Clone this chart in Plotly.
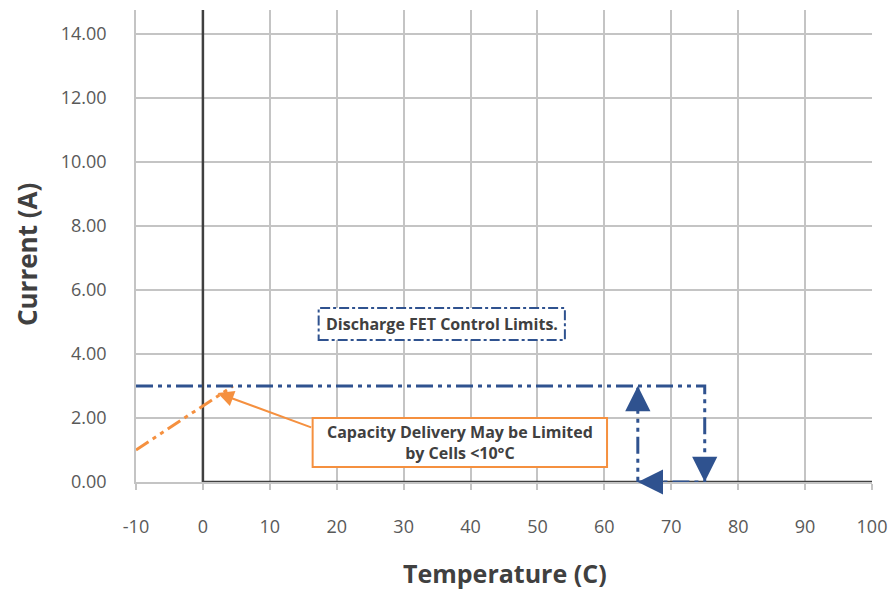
import plotly.graph_objects as go

# ---- data ----
x_range = [-10, 100]
y_range = [0, 14.75]
x_ticks = [-10, 0, 10, 20, 30, 40, 50, 60, 70, 80, 90, 100]
y_ticks = [0, 2, 4, 6, 8, 10, 12, 14]

# black reference axis series (vertical at 0 °C, then 0 A)
ref_x = [0, 0, 100]
ref_y = [14.75, 0, 0]

# orange "cells limited" series
cold_x = [-10, 4.5]
cold_y = [1.0, 3.0]

# blue discharge FET control path
fet_x = [-10, 75, 75, 65, 65]
fet_y = [3.0, 3.0, 0.0, 0.0, 3.0]

# arrow heads along the FET path: (tip_x, tip_y, tail_x, tail_y)
fet_arrows = [(75, 0.0, 75, 0.6), (65, 0.0, 68, 0.0), (65, 3.0, 65, 2.4)]

# annotation texts / positions
fet_label = "Discharge FET Control Limits."
fet_box = [17.3, 4.44, 54.1, 5.44]
cap_label = "Capacity Delivery May be Limited<br>by Cells <10°C"
cap_box = [16.4, 0.47, 60.4, 2.0]
cap_arrow = (2.2, 2.78, 16.4, 1.69)

BLUE = "#2F528F"
ORANGE = "#F5903F"
DARK = "#404040"
TICK = "#595959"
GRID = "#C4C4C4"
FONT = "Open Sans"

fig = go.Figure()

fig.add_trace(go.Scatter(x=ref_x, y=ref_y, mode="lines",
                         line=dict(color=DARK, width=2.5), hoverinfo="skip", showlegend=False))
fig.add_trace(go.Scatter(x=cold_x, y=cold_y, mode="lines",
                         line=dict(color=ORANGE, width=3, dash="15px,5px,4px,5px,4px,5px"),
                         showlegend=False))
fig.add_trace(go.Scatter(x=fet_x, y=fet_y, mode="lines",
                         line=dict(color=BLUE, width=3, dash="17px,5px,4px,5px,4px,5px"),
                         showlegend=False))

for tx, ty, sx, sy in fet_arrows:
    fig.add_annotation(x=tx, y=ty, ax=sx, ay=sy, xref="x", yref="y", axref="x", ayref="y",
                       text="", showarrow=True, arrowhead=2, arrowsize=1.8, arrowwidth=2.8,
                       arrowcolor=BLUE, standoff=0)

# FET label box
fig.add_shape(type="rect", x0=fet_box[0], y0=fet_box[1], x1=fet_box[2], y1=fet_box[3],
              xref="x", yref="y", fillcolor="white",
              line=dict(color=BLUE, width=2, dash="10px,3px,3px,3px"), layer="above")
fig.add_annotation(x=(fet_box[0] + fet_box[2]) / 2, y=(fet_box[1] + fet_box[3]) / 2,
                   xref="x", yref="y", text="<b>" + fet_label + "</b>", showarrow=False,
                   font=dict(family=FONT, size=16, color=DARK))

# capacity box
fig.add_shape(type="rect", x0=cap_box[0], y0=cap_box[1], x1=cap_box[2], y1=cap_box[3],
              xref="x", yref="y", fillcolor="white",
              line=dict(color=ORANGE, width=2), layer="above")
fig.add_annotation(x=(cap_box[0] + cap_box[2]) / 2, y=(cap_box[1] + cap_box[3]) / 2,
                   xref="x", yref="y", text="<b>" + cap_label + "</b>", showarrow=False,
                   font=dict(family=FONT, size=16, color=DARK))
fig.add_annotation(x=cap_arrow[0], y=cap_arrow[1], ax=cap_arrow[2], ay=cap_arrow[3],
                   xref="x", yref="y", axref="x", ayref="y", text="", showarrow=True,
                   arrowhead=2, arrowsize=1.6, arrowwidth=2, arrowcolor=ORANGE, standoff=0)

# axis titles
fig.add_annotation(x=-0.148, y=0.481, xref="paper", yref="paper", text="<b>Current (A)</b>",
                   textangle=-90, showarrow=False, xanchor="center", yanchor="middle",
                   font=dict(family=FONT, size=26, color=DARK))
fig.add_annotation(x=0.501, y=-0.193, xref="paper", yref="paper", text="<b>Temperature (C)</b>",
                   showarrow=False, xanchor="center", yanchor="middle",
                   font=dict(family=FONT, size=25, color=DARK))

fig.update_layout(
    width=890, height=590,
    margin=dict(l=136, r=18, t=10, b=108),
    paper_bgcolor="white", plot_bgcolor="white",
    font=dict(family=FONT, color=TICK),
    showlegend=False,
)
fig.update_xaxes(range=x_range, tickvals=x_ticks, ticktext=[str(v) for v in x_ticks],
                 automargin=False,
                 showgrid=True, gridcolor=GRID, gridwidth=1.5, zeroline=False,
                 showline=True, linecolor=GRID, linewidth=1.5,
                 ticks="outside", ticklen=6, tickcolor=GRID, tickwidth=1.5,
                 ticklabelstandoff=22, tickfont=dict(size=18, color=TICK))
fig.update_yaxes(range=y_range, tickvals=y_ticks, ticktext=[f"{v:.2f}" for v in y_ticks],
                 automargin=False,
                 showgrid=True, gridcolor=GRID, gridwidth=1.5, zeroline=False,
                 showline=True, linecolor=GRID, linewidth=1.5,
                 ticks="", ticklabelstandoff=24, tickfont=dict(size=18, color=TICK))

fig.write_html("out.html", config={"displayModeBar": False},
               post_script="document.body.style.margin='0';document.body.style.overflow='hidden';")
